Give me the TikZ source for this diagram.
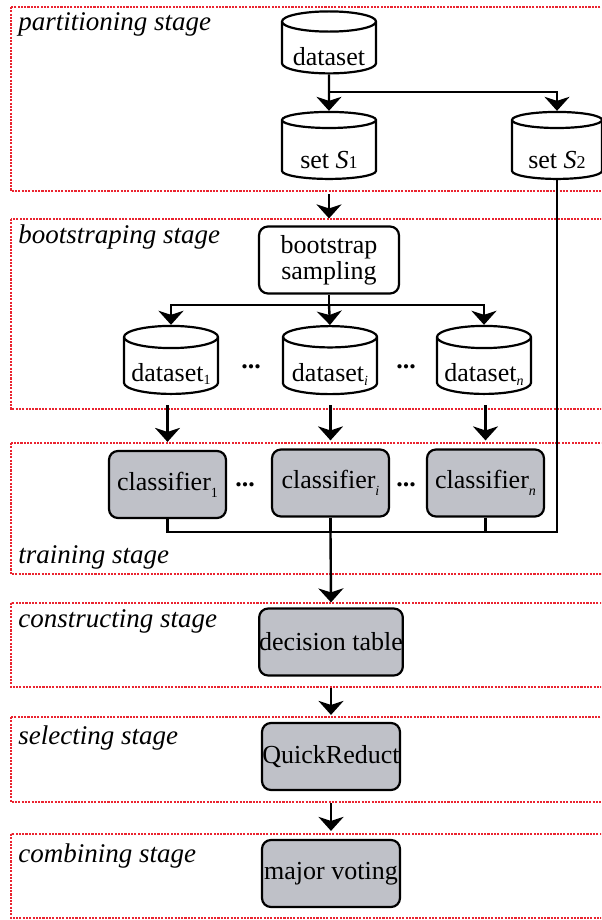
\documentclass[tikz,border=0pt]{standalone}
\usepackage{fontspec}
\setmainfont{Liberation Serif}
\usetikzlibrary{shapes.geometric,arrows.meta}
\definecolor{stagered}{HTML}{EA2430}
\definecolor{boxgray}{HTML}{BFC1C8}
\newcommand\nodefont{\fontsize{13}{11.5}\selectfont}
\newcommand\lowsub[2]{\raisebox{-#1}{\fontsize{7}{7}\selectfont #2}}
\newcommand\down[2]{\raisebox{-#1}[\height][\depth]{#2}}
\tikzset{
  stagebox/.style={draw=stagered, line width=1.1pt, dash pattern=on 1.05pt off 0.6pt},
  stagelabel/.style={anchor=base west, inner sep=0pt, font=\fontsize{13.5}{14}\selectfont\itshape},
  db/.style={cylinder, shape border rotate=90, aspect=0.28, draw, line width=1.1pt,
    fill=white, inner sep=0pt, font=\nodefont, minimum width=47pt, minimum height=31pt},
  proc/.style={rectangle, rounded corners=4.5pt, draw, line width=1.1pt, fill=boxgray,
    minimum width=58.5pt, minimum height=33.5pt, inner sep=0pt, font=\nodefont},
  dots/.style={inner sep=0pt, font=\nodefont\bfseries},
  conn/.style={line width=1.2pt},
  arr/.style={conn, -{Stealth[length=7pt,width=12.5pt,inset=2pt]}},
}
\begin{document}
\begin{tikzpicture}[x=0.5pt,y=-0.5pt]
\useasboundingbox (0,0) rectangle (601,920);
\begin{scope}
\clip (0,0) rectangle (601,920);
% stage boxes
\draw[stagebox] (11,7) rectangle (620,191);
\draw[stagebox] (11,219) rectangle (620,409);
\draw[stagebox] (11,443) rectangle (620,574);
\draw[stagebox] (11,603) rectangle (620,687);
\draw[stagebox] (11,717) rectangle (620,802);
\draw[stagebox] (11,834) rectangle (620,918);
\end{scope}
% stage labels
\node[stagelabel] (l1) at (18,31) {partitioning stage};
\node[stagelabel] (l2) at (18,243) {bootstraping stage};
\node[stagelabel] (l3) at (18,563) {training stage};
\node[stagelabel] (l4) at (18,627) {constructing stage};
\node[stagelabel] (l5) at (18,744) {selecting stage};
\node[stagelabel] (l6) at (18,862) {combining stage};

% partitioning
\node[db] (ds) at (329,48) {\down{4.5pt}{dataset}};
\node[db, minimum height=33.5pt] (s1) at (329,150) {\down{5pt}{set \textit{S}{\fontsize{9}{9}\selectfont 1}}};
\node[db, minimum height=33.5pt, minimum width=45pt] (s2) at (557,150) {\down{5pt}{set \textit{S}{\fontsize{9}{9}\selectfont 2}}};
\coordinate (j1) at (329,92);
\draw[arr] (ds.south) -- (s1.north);
\draw[arr] (j1) -| (s2.north);

% bootstrapping
\node[proc, fill=white, minimum width=70pt, align=center] (bs) at (329,260) {bootstrap\\sampling};
\draw[arr] ([yshift=-7pt]s1.south) -- ([yshift=3.5pt]bs.north);
\node[db, minimum height=34pt] (d1) at (171,366) {\down{4pt}{dataset\lowsub{1.5pt}{1}}};
\node[db, minimum height=34pt] (di) at (330,366) {\down{4pt}{dataset\lowsub{2pt}{\itshape i}}};
\node[db, minimum height=34pt] (dn) at (484,366) {\down{4pt}{dataset\lowsub{2pt}{\itshape n}}};
\node[dots] (e1) at (251,367) {...};
\node[dots] (e2) at (406,367) {...};
\coordinate (j3) at (329,305);
\draw[conn] (bs.south) -- (j3);
\draw[arr] (j3) -| (d1.north);
\draw[arr] (j3) -| (dn.north);
\draw[arr] (j3) -- (di.north);

% training
\node[proc] (c1) at (167.5,484.5) {classifier\lowsub{3.5pt}{1}};
\node[proc] (ci) at (330.5,483) {classifier\lowsub{3.5pt}{\itshape i}};
\node[proc] (cn) at (485.5,483) {classifier\lowsub{3.5pt}{\itshape n}};
\node[dots] (e3) at (245,485) {...};
\node[dots] (e4) at (406,485) {...};
\draw[arr] ([yshift=-5pt]d1.south -| c1.north) -- ([yshift=4pt]c1.north);
\draw[arr] ([yshift=-5pt]di.south -| ci.north) -- ([yshift=4pt]ci.north);
\draw[arr] ([yshift=-5pt]dn.south -| cn.north) -- ([yshift=4pt]cn.north);
\coordinate (j4) at (330.5,532);
\draw[conn] (c1.south) |- (j4);
\draw[conn] (cn.south) |- (j4);
\draw[conn] (s2.south) |- (j4);
\draw[conn] (ci.south) -- (j4);

% constructing, selecting, combining
\node[proc, minimum width=69pt] (dt) at (331,642) {decision table};
\node[proc, minimum width=69pt] (qr) at (331,756.5) {QuickReduct};
\node[proc, minimum width=69pt] (mv) at (331,873.5) {major voting};
\draw[arr] (j4) -- ([yshift=2.5pt]dt.north);
\draw[arr] ([yshift=-5.5pt]dt.south) -- ([yshift=3.5pt]qr.north);
\draw[arr] ([yshift=-6pt]qr.south) -- ([yshift=4pt]mv.north);
\end{tikzpicture}
\end{document}
